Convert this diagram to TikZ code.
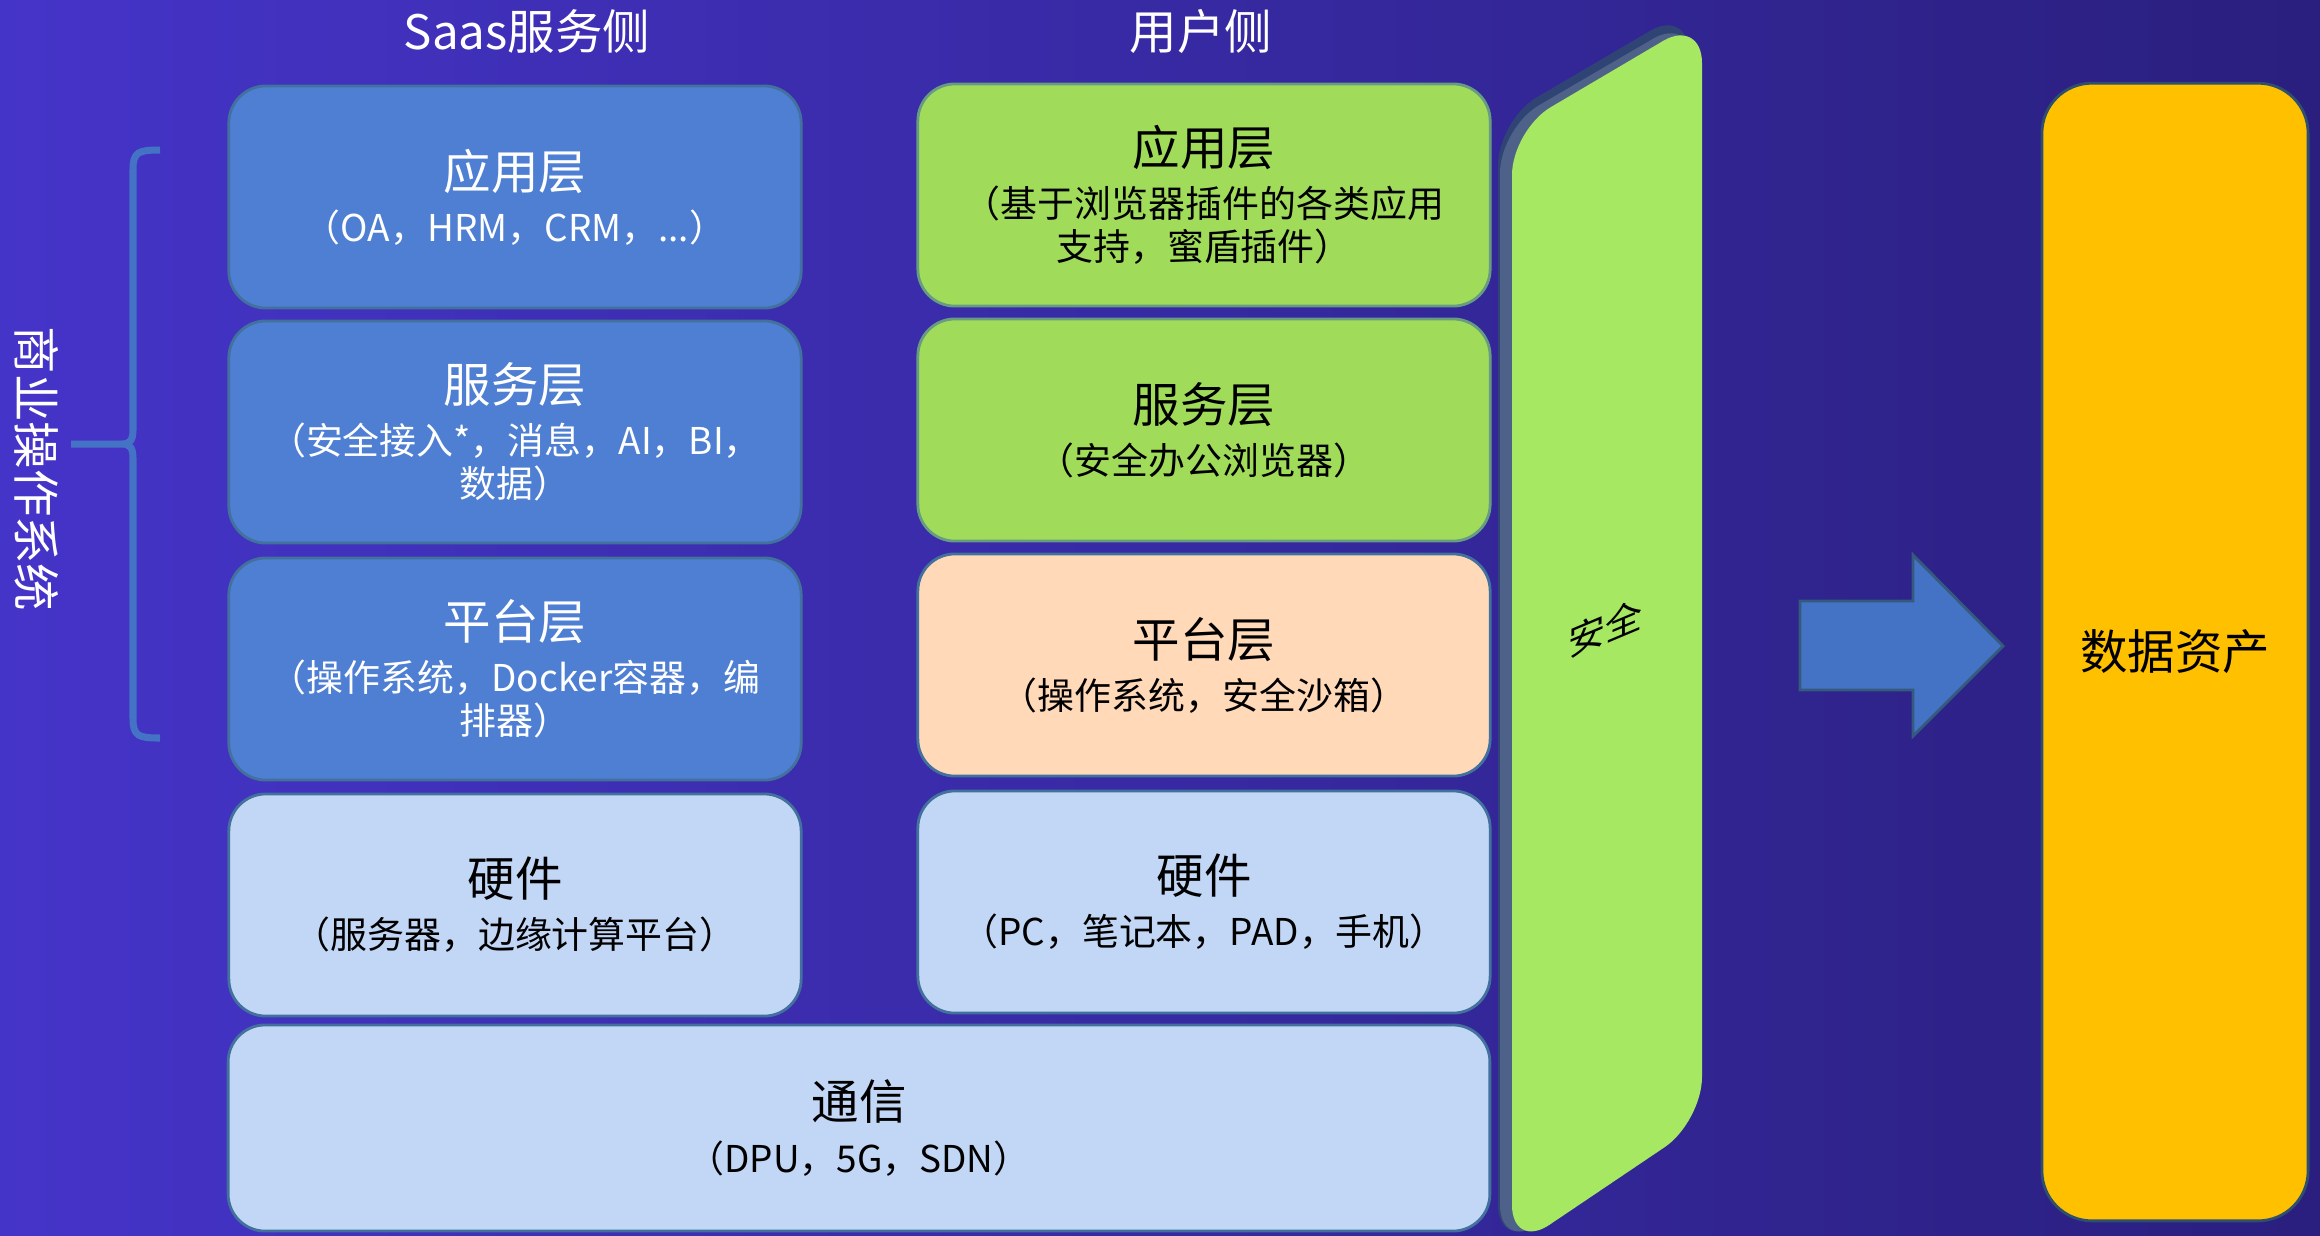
\documentclass[tikz,border=0pt]{standalone}
\usepackage{fontspec}
\setmainfont{Noto Sans CJK SC}
\usepackage{tikz}
\usetikzlibrary{arrows.meta}

\definecolor{bgleft}{HTML}{4534C8}
\definecolor{bgright}{HTML}{2A1F7E}
\definecolor{darkblue}{HTML}{4E7FD3}
\definecolor{lightblue}{HTML}{C2D6F5}
\definecolor{leafgreen}{HTML}{A0DC5A}
\definecolor{guardgreen}{HTML}{A6E862}
\definecolor{peach}{HTML}{FFD9B8}
\definecolor{amber}{HTML}{FFC000}
\definecolor{edgeblue}{HTML}{41719C}
\definecolor{arrowblue}{HTML}{4472C4}
\definecolor{slate}{HTML}{4D6189}
\definecolor{slatetop}{HTML}{2F4474}

\newcommand{\ttl}[1]{{\fontsize{13.5}{16}\selectfont #1}\\[2.6pt]}

\begin{document}
\begin{tikzpicture}[x=0.01cm,y=-0.01cm]
            \fill[left color=bgleft,right color=bgright] (0,0) rectangle (2320,1235);
            \path[use as bounding box] (0,0) rectangle (2320,1235);

            \begin{scope}[every node/.style={text=white,font=\fontsize{13.5}{16}\selectfont}]
                \node (saas) at (527,31) {Saas服务侧};
                \node (user) at (1201,31) {用户侧};
                \node[rotate=-90] (biz) at (37,469) {商业操作系统};
            \end{scope}

            % brace
            \draw[arrowblue,line width=2pt]
                (160,150) .. controls (138,150) and (133,152) .. (133,170) -- (133,430)
                .. controls (133,440) and (130,444) .. (122,444) -- (71,444)
                (160,738) .. controls (138,738) and (133,736) .. (133,718) -- (133,458)
                .. controls (133,448) and (130,444) .. (122,444);

            \begin{scope}[every node/.style={rectangle,rounded corners=0.37cm,draw=edgeblue,
                          line width=0.8pt,align=center,inner sep=0pt,
                          font=\fontsize{10.5}{12.2}\selectfont,
                          minimum width=5.72cm,minimum height=2.22cm}]
                \node[fill=darkblue,text=white] (sApp) at (515,197) {\ttl{应用层}（OA，HRM，CRM，...）};
                \node[fill=darkblue,text=white] (sSrv) at (515,432) {\ttl{服务层}（安全接入*，消息，AI，BI，\\数据）};
                \node[fill=darkblue,text=white] (sPlt) at (515,669) {\ttl{平台层}（操作系统，Docker容器，编\\排器）};
                \node[fill=lightblue] (sHw) at (515,905) {\ttl{硬件}（服务器，边缘计算平台）};

                \node[fill=leafgreen,draw=edgeblue!60!leafgreen] (uApp) at (1204,195) {\ttl{应用层}（基于浏览器插件的各类应用\\支持，蜜盾插件）};
                \node[fill=leafgreen,draw=edgeblue!60!leafgreen] (uSrv) at (1204,430) {\ttl{服务层}（安全办公浏览器）};
                \node[fill=peach] (uPlt) at (1204,665) {\ttl{平台层}（操作系统，安全沙箱）};
                \node[fill=lightblue] (uHw) at (1204,902) {\ttl{硬件}（PC，笔记本，PAD，手机）};

                \node[fill=lightblue,minimum width=12.61cm,minimum height=2.06cm] (net) at (859,1128) {\ttl{通信}（DPU，5G，SDN）};

                \node[fill=amber,draw=edgeblue!70!black,rounded corners=0.5cm,
                      minimum width=2.66cm,minimum height=11.37cm,
                      font=\fontsize{13.5}{16}\selectfont] (data) at (2175,652) {数据资产};
            \end{scope}

            % security panel
            \fill[slatetop,rounded corners=0.45cm] (1498,120) -- (1689,8) -- (1689,1118) -- (1498,1250) -- cycle;
            \fill[slate,rounded corners=0.45cm] (1500,128) -- (1692,16) -- (1692,1122) -- (1500,1250) -- cycle;
            \fill[guardgreen,rounded corners=0.45cm] (1512,130) -- (1702,18) -- (1702,1122) -- (1512,1250) -- cycle;
            \node[yslant=0.42,font=\fontsize{10.5}{12}\selectfont] (guard) at (1605,628) {安全};

            % arrow
            \draw[fill=arrowblue,draw=edgeblue!80!black,line width=0.8pt]
                (1800,601) -- (1913,601) -- (1913,555) -- (2003,646) -- (1913,736) -- (1913,690) -- (1800,690) -- cycle;
\end{tikzpicture}
\end{document}
